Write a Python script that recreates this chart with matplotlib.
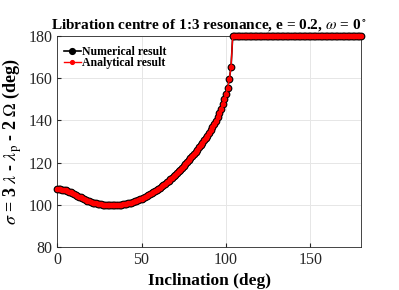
import matplotlib
matplotlib.use('Agg')
import matplotlib.pyplot as plt
import numpy as np

# Inclination grid (deg), 1 degree steps
inclination = np.arange(0, 181, 1)

# Libration centre (deg), 0..103 deg
sigma_curve = [
    107.4, 107.4, 107.3, 107.2, 107.0, 106.8, 106.5, 106.2, 105.9, 105.5,
    105.1, 104.7, 104.3, 103.9, 103.5, 103.1, 102.7, 102.3, 102.0, 101.7,
    101.4, 101.1, 100.9, 100.7, 100.5, 100.3, 100.2, 100.1, 100.0, 99.9,
    99.9, 99.8, 99.8, 99.8, 99.8, 99.9, 99.9, 100.0, 100.1, 100.2,
    100.4, 100.5, 100.7, 100.9, 101.1, 101.4, 101.6, 101.9, 102.2, 102.6,
    102.9, 103.3, 103.7, 104.1, 104.5, 105.0, 105.5, 106.0, 106.5, 107.0,
    107.6, 108.2, 108.8, 109.4, 110.0, 110.7, 111.4, 112.1, 112.8, 113.5,
    114.3, 115.1, 115.9, 116.7, 117.5, 118.4, 119.3, 120.2, 121.1, 122.0,
    123.0, 124.0, 125.0, 126.1, 127.2, 128.3, 129.4, 130.5, 131.6, 132.8,
    134.1, 135.4, 136.8, 138.3, 139.9, 141.6, 143.4, 145.4, 147.6, 150.0,
    152.5, 155.5, 159.6, 165.3,
]
# above ~104 deg the centre sits at 180
sigma_flat = [180.0] * 77
sigma_num = sigma_curve + sigma_flat
sigma_ana = sigma_curve + sigma_flat

plt.rcParams['font.family'] = ['Liberation Serif', 'DejaVu Serif']
plt.rcParams['mathtext.fontset'] = 'stix'

fig = plt.figure(figsize=(3.99, 2.90), dpi=100)
ax = fig.add_axes([0.143, 0.148, 0.762, 0.728])

ax.plot(inclination, sigma_num, color='black', marker='o', markersize=4.6,
        linewidth=1.2, label='Numerical result', zorder=3, clip_on=False)
ax.plot(inclination, sigma_ana, color='red', marker='o', markersize=3.0,
        linewidth=1.0, label='Analytical result', zorder=4, clip_on=False)

ax.set_xlim(0, 180)
ax.set_ylim(80, 180)
ax.set_xticks([0, 50, 100, 150])
ax.set_yticks([80, 100, 120, 140, 160, 180])
ax.grid(True, color='#e6e6e6', linewidth=0.7)
ax.set_axisbelow(True)
ax.tick_params(direction='in', labelsize=11.5, colors='#262626', length=3)
for s in ax.spines.values():
    s.set_color('#262626')
    s.set_linewidth(0.6)

ax.set_title(r'Libration centre of 1:3 resonance, e = 0.2, $\omega$ = 0$^\circ$',
             fontsize=11, fontweight='bold', pad=5)
ax.set_xlabel('Inclination (deg)', fontsize=12.5, fontweight='bold', labelpad=4)
ax.set_ylabel(r'$\sigma$ = 3 $\lambda$ - $\lambda_{\mathrm{p}}$ - 2 $\Omega$ (deg)',
              fontsize=13, fontweight='bold', labelpad=3)

ax.legend(loc='upper left', frameon=False, prop={'weight': 'bold', 'size': 8.5},
          handlelength=1.4, handletextpad=0.1, borderaxespad=0.2,
          labelspacing=-0.1, bbox_to_anchor=(0.0, 0.985), markerscale=0.9)

fig.savefig('out.png', dpi=100)
